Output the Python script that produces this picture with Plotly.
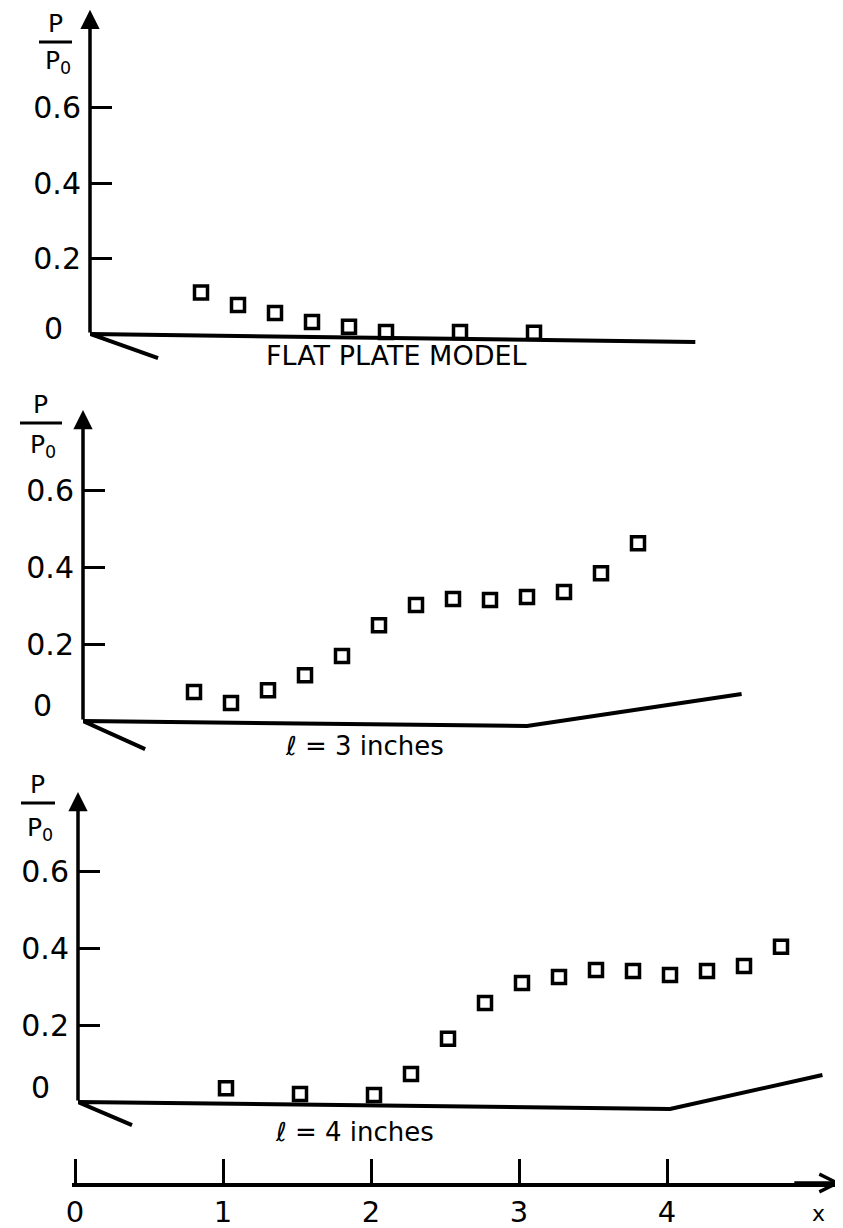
import plotly.graph_objects as go

W, H = 843, 1228          # target picture size
OFF = 8                   # page body margin
FW, FH = W - OFF, H - OFF # figure size
FONT = "DejaVu Sans"

# measured pressure ratio P/P0 along the plate, x in inches
flat_x = [0.75, 1.0, 1.25, 1.5, 1.75, 2.0, 2.5, 3.0]
flat_p = [0.11, 0.077, 0.056, 0.032, 0.019, 0.005, 0.005, 0.003]

l3_x = [0.75, 1.0, 1.25, 1.5, 1.75, 2.0, 2.25, 2.5, 2.75, 3.0, 3.25, 3.5, 3.75]
l3_p = [0.075, 0.047, 0.080, 0.119, 0.169, 0.249, 0.301, 0.317, 0.314, 0.322, 0.335, 0.384, 0.462]

l4_x = [1.0, 1.5, 2.0, 2.25, 2.5, 2.75, 3.0, 3.25, 3.5, 3.75, 4.0, 4.25, 4.5, 4.75]
l4_p = [0.036, 0.021, 0.018, 0.073, 0.164, 0.257, 0.309, 0.325, 0.343, 0.340, 0.330, 0.340, 0.353, 0.403]

# model outlines: leading edge, plate, ramp
flat_model_x = [0.46, 0.0, 4.09]
flat_model_y = [-0.064, 0.0, -0.021]
l3_model_x = [0.42, 0.0, 3.0, 4.45]
l3_model_y = [-0.073, 0.0, -0.013, 0.07]
l4_model_x = [0.365, 0.0, 4.0, 5.03]
l4_model_y = [-0.06, 0.0, -0.018, 0.07]

y_ticks = [0.2, 0.4, 0.6]
y_tick_labels = ["0.2", "0.4", "0.6"]
x_ticks = [0, 1, 2, 3, 4]
x_tick_labels = ["0", "1", "2", "3", "4"]
panel_labels = ["FLAT PLATE MODEL", "\u2113 = 3 inches", "\u2113 = 4 inches"]

X_PPU = 148  # pixels per inch along x


def px(x):
    return (x - OFF) / FW


def py(y):
    return 1 - (y - OFF) / FH


def text_at(x, y, text, size):
    return dict(x=px(x), y=py(y), xref="paper", yref="paper", text=text,
                showarrow=False, xanchor="center", yanchor="middle",
                font=dict(family=FONT, size=size, color="black"))


# origin x px, zero y px, px per unit y, top px, bottom px
panels = [
    dict(ox=90, zy=334, ppu=377, top=9, bot=378, arrow=0.86,
         data=(flat_x, flat_p), model=(flat_model_x, flat_model_y),
         label=(2.07, -0.058), zero=(53, 328),
         frac=dict(p=(55, 24), line=(39, 72, 42), p0=(58, 62))),
    dict(ox=83, zy=721, ppu=385, top=395, bot=762, arrow=0.808,
         data=(l3_x, l3_p), model=(l3_model_x, l3_model_y),
         label=(1.9, -0.064), zero=(42, 705),
         frac=dict(p=(40, 405), line=(20, 62, 423), p0=(43, 446))),
    dict(ox=78, zy=1102, ppu=385, top=780, bot=1140, arrow=0.805,
         data=(l4_x, l4_p), model=(l4_model_x, l4_model_y),
         label=(1.87, -0.078), zero=(40, 1087),
         frac=dict(p=(37, 784), line=(21, 55, 803), p0=(40, 829))),
]

fig = go.Figure()
layout = {}
annotations = []
shapes = []

for i, pnl in enumerate(panels, start=1):
    xa = f"x{i}" if i > 1 else "x"
    ya = f"y{i}" if i > 1 else "y"
    mx, my = pnl["model"]
    fig.add_trace(go.Scatter(x=mx, y=my, mode="lines", xaxis=xa, yaxis=ya,
                             line=dict(color="black", width=4), showlegend=False))
    dx, dy = pnl["data"]
    fig.add_trace(go.Scatter(x=dx, y=dy, mode="markers", xaxis=xa, yaxis=ya,
                             marker=dict(symbol="square-open", size=13, color="black",
                                         line=dict(width=3.5, color="black")),
                             showlegend=False, cliponaxis=False))

    layout[f"xaxis{i if i > 1 else ''}"] = dict(
        domain=[px(pnl["ox"]), 1], range=[0, (W - pnl["ox"]) / X_PPU],
        visible=False, anchor=ya)
    layout[f"yaxis{i if i > 1 else ''}"] = dict(
        domain=[py(pnl["bot"]), py(pnl["top"])],
        range=[(pnl["zy"] - pnl["bot"]) / pnl["ppu"], (pnl["zy"] - pnl["top"]) / pnl["ppu"]],
        anchor=xa, showline=False, showgrid=False, zeroline=False,
        ticks="inside", ticklen=22, tickwidth=3, tickcolor="black",
        tickvals=y_ticks, ticktext=y_tick_labels, ticklabelstandoff=8,
        tickfont=dict(family=FONT, size=30, color="black"))

    # vertical axis with arrow
    annotations.append(dict(x=0, y=pnl["arrow"], ax=0, ay=0, xref=xa, yref=ya,
                            axref=xa, ayref=ya, text="", showarrow=True,
                            arrowhead=2, arrowsize=1.1, arrowwidth=3.5, arrowcolor="black"))
    lx, ly = pnl["label"]
    annotations.append(dict(x=lx, y=ly, xref=xa, yref=ya, text=panel_labels[i - 1],
                            showarrow=False, xanchor="center", yanchor="middle",
                            font=dict(family=FONT, size=27 if i == 1 else 26,
                                      color="black")))
    annotations.append(text_at(*pnl["zero"], "0", 30))
    fr = pnl["frac"]
    annotations.append(text_at(*fr["p"], "P", 25))
    annotations.append(text_at(*fr["p0"], "P<sub>0</sub>", 25))
    x0, x1, yl = fr["line"]
    shapes.append(dict(type="line", xref="paper", yref="paper", x0=px(x0), x1=px(x1),
                       y0=py(yl), y1=py(yl), line=dict(color="black", width=3)))

# bottom ruler
R_OX = 72  # ruler left edge, a few px before x = 0 so the 0 tick shows
r_min = (R_OX - 75) / X_PPU
fig.add_trace(go.Scatter(x=x_ticks, y=[0] * len(x_ticks), mode="markers", xaxis="x4",
                         yaxis="y4", marker=dict(opacity=0), hoverinfo="skip",
                         showlegend=False))
layout["xaxis4"] = dict(domain=[px(R_OX), 1], range=[r_min, (W - 75) / X_PPU], anchor="y4",
                        showline=True, linewidth=3.5, linecolor="black", showgrid=False,
                        zeroline=False, ticks="inside", ticklen=24, tickwidth=2.5,
                        tickcolor="black", tickvals=x_ticks, ticktext=x_tick_labels,
                        tickfont=dict(family=FONT, size=29, color="black"))
layout["yaxis4"] = dict(domain=[py(1183), py(1150)], range=[0, 1], visible=False,
                        anchor="x4")
annotations.append(dict(x=(W - 77) / X_PPU, y=0, ax=4.85, ay=0, xref="x4", yref="y4",
                        axref="x4", ayref="y4", text="", showarrow=True, arrowhead=5,
                        arrowsize=1.0, arrowwidth=3.5, arrowcolor="black"))
annotations.append(text_at(818, 1213, "x", 22))

fig.update_layout(width=FW, height=FH,
                  margin=dict(l=0, r=0, t=0, b=0, pad=0, autoexpand=False),
                  paper_bgcolor="white", plot_bgcolor="white",
                  annotations=annotations, shapes=shapes, **layout)

fig.write_html("out.html")
